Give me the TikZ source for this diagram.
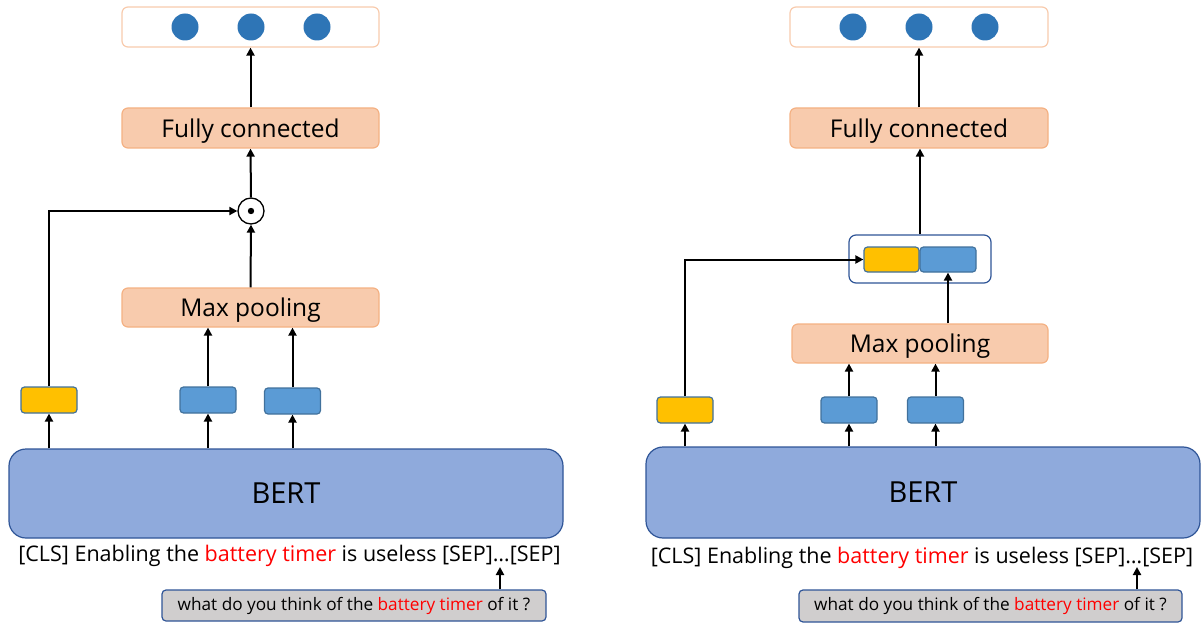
\documentclass[tikz,border=0pt]{standalone}
\usepackage{fontspec}
\setmainfont{Open Sans}
\usetikzlibrary{arrows.meta}

\definecolor{peach}{HTML}{F8CBAD}
\definecolor{peachline}{HTML}{F4B183}
\definecolor{dotblue}{HTML}{2E75B6}
\definecolor{gold}{HTML}{FFC000}
\definecolor{vecblue}{HTML}{5B9BD5}
\definecolor{vecline}{HTML}{41719C}
\definecolor{bertfill}{HTML}{8FAADC}
\definecolor{bertline}{HTML}{2F5597}
\definecolor{qgray}{HTML}{D0CECE}
\definecolor{hl}{HTML}{FF0000}

\tikzset{
  layer/.style={draw=peachline, line width=1.2pt, fill=peach, rounded corners=6pt,
    minimum width=257pt, minimum height=40pt, inner sep=0pt, text depth=0pt,
    font=\fontsize{24.5}{27}\selectfont},
  outbox/.style={draw=peach, line width=1.2pt, fill=white, rounded corners=6pt,
    minimum width=257pt, minimum height=40pt, inner sep=0pt},
  unit/.style={circle, fill=dotblue, minimum size=27pt, inner sep=0pt},
  clsvec/.style={draw=vecline, line width=1.2pt, fill=gold, rounded corners=3.5pt,
    minimum width=56pt, minimum height=26pt, inner sep=0pt},
  tokvec/.style={draw=vecline, line width=1.2pt, fill=vecblue, rounded corners=3.5pt,
    minimum width=56pt, minimum height=26pt, inner sep=0pt},
  bertbox/.style={draw=bertline, line width=1.2pt, fill=bertfill, rounded corners=17pt,
    minimum width=554pt, minimum height=90pt, inner sep=0pt,
    font=\fontsize{29}{32}\selectfont},
  sentence/.style={inner sep=0pt, font=\fontsize{21.5}{24}\selectfont},
  query/.style={draw=bertline, line width=1.2pt, fill=qgray, rounded corners=4pt,
    minimum width=384pt, minimum height=31pt, inner sep=0pt,
    font=\fontsize{17.2}{19}\selectfont},
  odot/.style={circle, draw=black, line width=1.3pt, fill=white, minimum size=26pt, inner sep=0pt},
  frame/.style={draw=bertline, line width=1.2pt, fill=white, rounded corners=7pt,
    minimum width=142pt, minimum height=48pt, inner sep=0pt},
  arr/.style={line width=2pt, -{Triangle[length=8pt,width=8pt]}},
}

\begin{document}
\begin{tikzpicture}[x=1pt, y=-1pt]
\useasboundingbox (0,0) rectangle (1202,623);

% ---------- left model: element-wise product ----------
\node[outbox] (out1) at (250.5,27) {};
\foreach \i/\x in {a/185,b/251,c/317}
  \node[unit] (o1\i) at (\x,27) {};
\node[layer] (fc1) at (250.5,128) {Fully connected};
\node[odot] (dot1) at (251,211) {};
\fill (dot1.center) circle (3.2pt);
\node[layer, minimum height=39pt] (mp1) at (250.5,307.5) {Max pooling};
\node[clsvec] (y1) at (49,400) {};
\node[tokvec] (b1a) at (208,400) {};
\node[tokvec] (b1b) at (292.5,401) {};
\node[bertbox, minimum height=89pt] (bert1) at (286,493.5) {BERT};
\node[sentence] (s1) at (289.5,556) {[CLS] Enabling the \textcolor{hl}{battery timer} is useless [SEP]…[SEP]};
\node[query] (q1) at (354,605.5) {what do you think of the \textcolor{hl}{battery timer} of it ?};
\coordinate (sep1) at (500,567);

\draw[arr] (fc1.north) -- (out1.south);
\draw[arr] (dot1.north) -- (fc1.south);
\draw[arr] (mp1.north) -- (dot1.south);
\draw[arr] (y1.north) |- (dot1.west);
\draw[arr] (b1a.north) -- (b1a.north |- mp1.south);
\draw[arr] (b1b.north) -- (b1b.north |- mp1.south);
\draw[arr] (y1.south |- bert1.north) -- (y1.south);
\draw[arr] (b1a.south |- bert1.north) -- (b1a.south);
\draw[arr] (b1b.south |- bert1.north) -- (b1b.south);
\draw[arr] (q1.north -| sep1) -- (sep1);

% ---------- right model: concatenation ----------
\node[outbox, minimum width=258pt] (out2) at (919,27) {};
\foreach \i/\x in {a/853,b/919,c/985}
  \node[unit] (o2\i) at (\x,27) {};
\node[layer, minimum width=258pt] (fc2) at (919,128) {Fully connected};
\node[frame] (cat2) at (920,259) {};
\node[clsvec, minimum width=55pt, minimum height=25pt] (cy2) at (891.5,259.5) {};
\node[tokvec, minimum height=25pt] (cb2) at (948,259.5) {};
\node[layer, minimum width=256pt, minimum height=39pt] (mp2) at (920,343.5) {Max pooling};
\node[clsvec] (y2) at (685,410) {};
\node[tokvec] (b2a) at (849,410) {};
\node[tokvec] (b2b) at (935.5,410) {};
\node[bertbox, minimum height=91pt] (bert2) at (923,492.5) {BERT};
\node[sentence] (s2) at (922,557.5) {[CLS] Enabling the \textcolor{hl}{battery timer} is useless [SEP]…[SEP]};
\node[query, minimum width=383pt, minimum height=32pt] (q2) at (990.5,606) {what do you think of the \textcolor{hl}{battery timer} of it ?};
\coordinate (sep2) at (1137,567);

\draw[arr] (fc2.north) -- (out2.south);
\draw[arr] (cat2.north) -- (cat2.north |- fc2.south);
\draw[arr] (cb2.south |- mp2.north) -- (cb2.south);
\draw[arr] (y2.north) |- (cy2.west);
\draw[arr] (b2a.north) -- (b2a.north |- mp2.south);
\draw[arr] (b2b.north) -- (b2b.north |- mp2.south);
\draw[arr] (y2.south |- bert2.north) -- (y2.south);
\draw[arr] (b2a.south |- bert2.north) -- (b2a.south);
\draw[arr] (b2b.south |- bert2.north) -- (b2b.south);
\draw[arr] (q2.north -| sep2) -- (sep2);
\end{tikzpicture}
\end{document}
